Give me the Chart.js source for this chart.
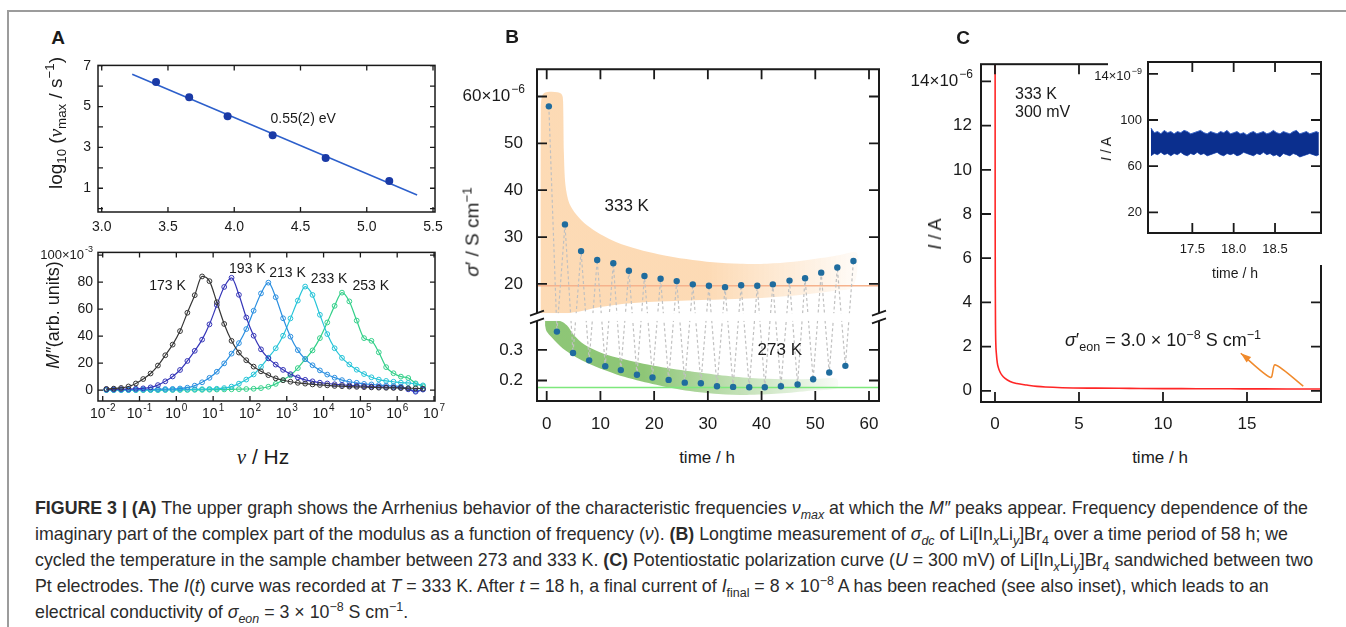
<!DOCTYPE html>
<html>
<head>
<meta charset="utf-8">
<title>Figure 3</title>
<script src="https://cdn.jsdelivr.net/npm/chart.js@4.4.1/dist/chart.umd.min.js"></script>
<style>
  html, body { margin: 0; padding: 0; }
  body { width: 1346px; height: 627px; position: relative; overflow: hidden; background: #fff;
         font-family: 'Liberation Sans', Arial, sans-serif; color: #1a1a1a; }
  canvas { position: absolute; }
  .box-top { position: absolute; left: 7px; top: 10px; width: 1339px; border-top: 2px solid #9c9c9c; }
  .box-left { position: absolute; left: 7px; top: 10px; height: 617px; border-left: 2px solid #9c9c9c; }
  .t { position: absolute; white-space: nowrap; transform: translate(-50%, -50%); line-height: 1; }
  .r { transform: translate(-50%, -50%) rotate(-90deg); }
  .letter { font-weight: bold; font-size: 19px; }
  sub, sup { font-size: 70%; line-height: 0; }
  .nu { font-family: 'Liberation Serif', 'DejaVu Serif', serif; font-style: italic; }
  .cap { position: absolute; left: 35px; font-size: 17.8px; line-height: 26px; white-space: nowrap; color: #2b2b2b; }
</style>
</head>
<body>
<div class="box-top"></div><div class="box-left"></div>
<canvas id="arr"></canvas>
<canvas id="mod"></canvas>
<canvas id="cond"></canvas>
<canvas id="pol"></canvas>
<canvas id="ins"></canvas>

<div class="t letter" style="left:58px;top:37px">A</div>
<div class="t letter" style="left:512px;top:36px">B</div>
<div class="t letter" style="left:963px;top:37px">C</div>

<div class="t r" style="left:55px;top:123px;font-size:19px">log<sub>10</sub> (<span class="nu">ν</span><sub>max</sub> / s<sup>−1</sup>)</div>
<div class="t r" style="left:53px;top:315px;font-size:18px"><i>M″</i>(arb. units)</div>
<div class="t" style="left:263px;top:457px;font-size:21px"><span class="nu">ν</span> / Hz</div>

<div class="t r" style="left:472px;top:232px;font-size:19px"><i>σ</i>′ / S cm<sup>−1</sup></div>
<div class="t" style="left:707px;top:457px;font-size:17px">time / h</div>

<div class="t r" style="left:935px;top:234px;font-size:18px"><i>I</i> / A</div>
<div class="t" style="left:1160px;top:457px;font-size:17px">time / h</div>
<div class="t r" style="left:1106px;top:149px;font-size:14px"><i>I</i> / A</div>
<div class="t" style="left:1235px;top:273px;font-size:14px">time / h</div>
<div class="t" style="left:1163px;top:340px;font-size:18px"><i>σ</i>′<sub>eon</sub> = 3.0 × 10<sup>−8</sup> S cm<sup>−1</sup></div>

<div class="cap" style="top:495px"><b>FIGURE 3 | (A)</b> The upper graph shows the Arrhenius behavior of the characteristic frequencies <i>ν<sub>max</sub></i> at which the <i>M″</i> peaks appear. Frequency dependence of the</div>
<div class="cap" style="top:521px">imaginary part of the complex part of the modulus as a function of frequency (<i>ν</i>). <b>(B)</b> Longtime measurement of <i>σ</i><sub><i>dc</i></sub> of Li[In<sub><i>x</i></sub>Li<sub><i>y</i></sub>]Br<sub>4</sub> over a time period of 58 h; we</div>
<div class="cap" style="top:547px">cycled the temperature in the sample chamber between 273 and 333 K. <b>(C)</b> Potentiostatic polarization curve (<i>U</i> = 300 mV) of Li[In<sub><i>x</i></sub>Li<sub><i>y</i></sub>]Br<sub>4</sub> sandwiched between two</div>
<div class="cap" style="top:573px">Pt electrodes. The <i>I</i>(<i>t</i>) curve was recorded at <i>T</i> = 333 K. After <i>t</i> = 18 h, a final current of <i>I</i><sub>final</sub> = 8 × 10<sup>−8</sup> A has been reached (see also inset), which leads to an</div>
<div class="cap" style="top:599px">electrical conductivity of <i>σ<sub>eon</sub></i> = 3 × 10<sup>−8</sup> S cm<sup>−1</sup>.</div>

<script>
// ---- panel A (top): Arrhenius plot
const arrInvT = [3.41, 3.66, 3.95, 4.29, 4.69, 5.17];
const arrLogNu = [6.20, 5.46, 4.53, 3.60, 2.48, 1.36];
const arrFitX = [3.23, 5.38];
const arrFitY = [6.58, 0.67];

// ---- panel A (bottom): modulus spectra, log10(frequency / Hz)
const modExp = [-1.9, -1.7, -1.5, -1.3, -1.1, -0.9, -0.7, -0.5, -0.3, -0.1,
  0.1, 0.3, 0.5, 0.7, 0.9, 1.1, 1.3, 1.5, 1.7, 1.9,
  2.1, 2.3, 2.5, 2.7, 2.9, 3.1, 3.3, 3.5, 3.7, 3.9,
  4.1, 4.3, 4.5, 4.7, 4.9, 5.1, 5.3, 5.5, 5.7, 5.9,
  6.1, 6.3, 6.5, 6.7];
const m173 = [0.9, 1.1, 1.6, 2.7, 4.9, 8.2, 12.3, 18.2, 25.8, 33.7,
  43.7, 57.3, 70.3, 84.2, 80.7, 65.1, 49.0, 36.5, 27.8, 22.1,
  17.4, 13.9, 11.1, 8.7, 7.3, 6.2, 5.4, 4.8, 4.2, 3.8,
  3.5, 3.1, 2.9, 2.6, 2.4, 2.2, 2.0, 1.8, 1.7, 1.6,
  1.5, 1.4, 1.3, 1.1];
const m193 = [0.5, 0.6, 0.7, 0.8, 1.0, 1.3, 2.0, 3.7, 6.5, 10.1,
  14.9, 21.6, 29.1, 37.4, 48.7, 63.0, 76.4, 83.2, 70.6, 53.8,
  40.3, 30.2, 23.5, 18.9, 15.0, 11.8, 9.4, 7.6, 6.5, 5.5,
  4.9, 4.3, 3.9, 3.5, 3.2, 2.9, 2.6, 2.4, 2.2, 2.0,
  1.9, 0.6, -1.2, 0.4];
const m213 = [0.2, 0.2, 0.3, 0.3, 0.4, 0.5, 0.6, 0.7, 0.8, 0.9,
  1.2, 1.8, 3.3, 5.8, 9.1, 13.6, 19.8, 27.0, 34.8, 45.2,
  58.8, 71.6, 79.6, 68.8, 53.2, 39.6, 29.6, 23.0, 18.4, 14.6,
  11.5, 9.2, 7.4, 6.2, 5.4, 4.6, 4.2, 3.7, 3.4, 3.0,
  2.6, 1.0, -0.6, 0.6];
const m233 = [0.1, 0.1, 0.1, 0.1, 0.1, 0.2, 0.2, 0.2, 0.2, 0.3,
  0.4, 0.5, 0.6, 0.7, 0.85, 1.0, 1.5, 2.6, 4.8, 7.8,
  11.6, 17.2, 24.0, 31.0, 40.3, 53.1, 66.3, 76.7, 70.5, 55.8,
  41.5, 31.0, 23.9, 19.0, 15.1, 11.9, 9.5, 7.8, 6.8, 6.2,
  5.5, 5.3, 4.5, 3.5];
const m253 = [0, 0, 0, 0, 0, 0, 0, 0, 0.1, 0.1,
  0.1, 0.1, 0.2, 0.2, 0.3, 0.4, 0.5, 0.6, 0.7, 0.8,
  1.0, 1.5, 2.5, 4.6, 7.5, 11.0, 16.3, 22.9, 29.4, 38.5,
  50.1, 62.4, 72.2, 65.7, 51.5, 38.5, 36.5, 28.0, 17.0, 12.5,
  10.0, 9.0, 5.0, 2.8];
const modTemps = ['173 K', '193 K', '213 K', '233 K', '253 K'];
const modColors = ['#363636', '#3636b8', '#2b8fe0', '#26c4d8', '#34d08a'];
const modDecades = [-2, -1, 0, 1, 2, 3, 4, 5, 6, 7];

// ---- panel B: conductivity while cycling 333 K / 273 K (units 1e-6 S/cm)
const hotT = [0.4, 3.4, 6.4, 9.4, 12.4, 15.3, 18.2, 21.2, 24.2, 27.2, 30.2, 33.2, 36.2, 39.2, 42.1, 45.2, 48.1, 51.1, 54.1, 57.1];
const hotS = [57.9, 32.7, 27.0, 25.1, 24.4, 22.8, 21.7, 21.1, 20.6, 19.9, 19.6, 19.3, 19.7, 19.6, 19.9, 20.7, 21.2, 22.4, 23.5, 24.9];
const coldT = [1.9, 4.9, 7.9, 10.9, 13.8, 16.8, 19.7, 22.7, 25.7, 28.7, 31.7, 34.7, 37.7, 40.6, 43.6, 46.7, 49.6, 52.6, 55.6];
const coldS = [0.36, 0.29, 0.266, 0.247, 0.234, 0.219, 0.21, 0.202, 0.193, 0.191, 0.181, 0.179, 0.178, 0.178, 0.181, 0.187, 0.204, 0.226, 0.248];
const HOT_LEVEL = 19.6;
const COLD_LEVEL = 0.177;
// guide bands
const bandHotT = [-1.1, -1.1, -0.9, -0.4, 0.8, 2.0, 2.7, 3.0, 3.1, 3.2, 3.5, 4.2, 5.5, 7.5, 10, 13, 17, 21, 26, 31, 36, 41, 46, 51, 55, 57.5,
  58, 57, 54, 50, 45, 40, 35, 30, 25, 20, 15, 11, 8, 5.5, 4];
const bandHotS = [13.75, 57.5, 60.0, 60.8, 61.0, 60.9, 60.6, 59.8, 56, 48, 41, 37.2, 34.8, 32.5, 30.6, 28.9, 27.4, 26.3, 25.3, 24.6, 24.3, 24.3, 24.7, 25.5, 26.3, 26.8,
  25.5, 19.3, 18.6, 18.0, 17.4, 17.0, 16.8, 16.6, 16.4, 16.2, 15.8, 15.2, 14.6, 14.0, 13.75];
const bandColdT = [-0.3, 0.5, 2.5, 3.8, 5, 7, 10, 13, 18, 25, 32, 38, 44, 50, 54,
  54, 50, 44, 38, 32, 25, 19, 13, 7, 3, 1, 0, -0.3];
const bandColdS = [0.395, 0.395, 0.395, 0.38, 0.35, 0.318, 0.292, 0.275, 0.255, 0.234, 0.218, 0.208, 0.204, 0.205, 0.205,
  0.175, 0.168, 0.158, 0.153, 0.156, 0.17, 0.192, 0.22, 0.262, 0.305, 0.34, 0.36, 0.38];
const timeTicks = [0, 10, 20, 30, 40, 50, 60];
const hotTicks = [20, 30, 40, 50, 60];
const coldTicks = [0.2, 0.3];
const BREAK_HOT = 13.75;   // lowest value shown in the upper part
const BREAK_COLD = 0.395;  // highest value shown in the lower part

// ---- panel C: polarisation current (units 1e-6 A)
const polT = [0, 0.01, 0.02, 0.03, 0.05, 0.08, 0.14, 0.2, 0.3, 0.4, 0.6, 0.9, 1.3, 1.9, 2.5, 3, 4, 6, 8, 10, 12, 14, 16, 18, 19.4];
const polI = [40, 8, 4.5, 3, 2.1, 1.7, 1.25, 1.05, 0.85, 0.72, 0.56, 0.42, 0.33, 0.26, 0.2, 0.17, 0.14, 0.12, 0.11, 0.1, 0.095, 0.09, 0.087, 0.083, 0.08];
const arrowT = [18.35, 16.67, 16.41, 14.63];
const arrowI = [0.21, 1.18, 0.6, 1.7];

// ---- inset: final current (units 1e-9 A), envelope of the noise
const insT = [17.00, 17.04, 17.08, 17.12, 17.16, 17.20, 17.24, 17.28, 17.32, 17.36,
  17.40, 17.44, 17.48, 17.52, 17.56, 17.60, 17.64, 17.68, 17.72, 17.76,
  17.80, 17.84, 17.88, 17.92, 17.96, 18.00, 18.04, 18.08, 18.12, 18.16,
  18.20, 18.24, 18.28, 18.32, 18.36, 18.40, 18.44, 18.48, 18.52, 18.56,
  18.60, 18.64, 18.68, 18.72, 18.76, 18.80, 18.84, 18.88, 18.92, 18.96,
  19.00, 19.03];
const insHi = [93, 89, 90, 88, 91, 89, 90, 88, 90, 89, 91, 90, 88, 89, 90, 91, 89, 88, 90, 89,
  88, 90, 89, 91, 88, 89, 90, 88, 89, 87, 89, 90, 88, 89, 90, 88, 89, 91, 89, 88,
  90, 89, 88, 90, 91, 88, 89, 90, 88, 89, 90, 89];
const insLo = [69, 71, 70, 72, 70, 71, 69, 71, 70, 72, 70, 69, 71, 70, 72, 70, 71, 69, 70, 71,
  72, 70, 69, 71, 70, 71, 69, 70, 72, 71, 70, 69, 71, 70, 72, 70, 71, 69, 70, 68,
  71, 70, 69, 71, 70, 68, 69, 70, 71, 70, 69, 70];

const FONT = "'Liberation Sans', Arial, sans-serif";
const INK = '#1a1a1a';
Chart.defaults.font.family = FONT;
Chart.defaults.color = INK;
Chart.defaults.animation = false;
Chart.defaults.plugins.legend.display = false;
Chart.defaults.plugins.tooltip.enabled = false;

const xy = (xs, ys) => xs.map((x, i) => ({ x, y: ys[i] }));

// canvas placed so that the plot area lands on rect; pad = room for the axes
function place(id, rect, pad) {
  const c = document.getElementById(id);
  const w = rect.r - rect.l + pad.l + pad.r, h = rect.b - rect.t + pad.t + pad.b;
  c.style.left = (rect.l - pad.l) + 'px';
  c.style.top = (rect.t - pad.t) + 'px';
  c.width = w; c.height = h;
  c.style.width = w + 'px'; c.style.height = h + 'px';
  return c;
}

// axis whose box is exactly `thick` px wide/high, so the plot area is fixed
function axis(type, min, max, ticks, size, pad, thick, fmt, extra) {
  const tickOpts = { font: { size }, padding: pad, autoSkip: false, maxRotation: 0, minRotation: 0, color: INK,
                     callback: fmt || (v => String(v)) };
  const a = Object.assign({
    type, min, max,
    grid: { display: false, drawTicks: false }, border: { display: false },
    afterBuildTicks: s => { s.ticks = ticks.map(v => ({ value: v })); },
    afterFit: s => { if (s.isHorizontal()) s.height = thick; else s.width = thick; }
  }, extra || {});
  a.ticks = Object.assign(tickOpts, (extra && extra.ticks) || {});
  return a;
}

function baseOptions(pad, scales) {
  return {
    responsive: false, maintainAspectRatio: false, devicePixelRatio: 1,
    layout: { padding: { left: 0, top: pad.t, right: pad.r, bottom: 0 } },
    elements: { point: { hitRadius: 0 } },
    scales
  };
}

function drawPow(ctx, base, exp, x, y, size, align) {
  const es = Math.round(size * 0.7);
  ctx.font = `${size}px ${FONT}`;
  const bw = ctx.measureText(base).width;
  ctx.font = `${es}px ${FONT}`;
  const ew = exp ? ctx.measureText(exp).width + 1 : 0;
  const w = bw + ew;
  const x0 = align === 'right' ? x - w : align === 'center' ? x - w / 2 : x;
  ctx.fillStyle = INK; ctx.textAlign = 'left'; ctx.textBaseline = 'middle';
  ctx.font = `${size}px ${FONT}`;
  ctx.fillText(base, x0, y);
  if (exp) {
    ctx.font = `${es}px ${FONT}`;
    ctx.fillText(exp, x0 + bw + 1, y - size * 0.42);
  }
}

// box + inward ticks on all four sides
function frame(cfg) {
  return {
    id: 'frame',
    afterDraw(chart) {
      const { ctx, chartArea: a } = chart;
      const xs = chart.scales.x, ys = chart.scales.y;
      ctx.save();
      ctx.strokeStyle = INK;
      ctx.lineWidth = cfg.lw;
      ctx.strokeRect(a.left, a.top, a.right - a.left, a.bottom - a.top);
      ctx.lineWidth = cfg.tw;
      ctx.beginPath();
      cfg.xt.forEach(v => {
        const p = xs.getPixelForValue(v);
        ctx.moveTo(p, a.bottom); ctx.lineTo(p, a.bottom - cfg.len);
        ctx.moveTo(p, a.top); ctx.lineTo(p, a.top + cfg.len);
      });
      cfg.yt.forEach(v => {
        const p = ys.getPixelForValue(v);
        ctx.moveTo(a.left, p); ctx.lineTo(a.left + cfg.len, p);
        ctx.moveTo(a.right, p); ctx.lineTo(a.right - cfg.len, p);
      });
      ctx.stroke();
      ctx.restore();
    }
  };
}

// text placed in data coordinates
function notes(items) {
  return {
    id: 'notes',
    afterDatasetsDraw(chart) {
      const { ctx } = chart;
      ctx.save();
      ctx.fillStyle = INK; ctx.textBaseline = 'middle';
      items.forEach(n => {
        ctx.font = `${n.size}px ${FONT}`;
        ctx.textAlign = n.align || 'center';
        ctx.fillText(n.text, chart.scales.x.getPixelForValue(n.x), chart.scales[n.axis || 'y'].getPixelForValue(n.y));
      });
      ctx.restore();
    }
  };
}

// tick labels drawn by hand (raised exponents, second y axis)
function powLabels(items) {
  return {
    id: 'pow',
    afterDraw(chart) {
      const { ctx, chartArea: a } = chart;
      ctx.save();
      items.forEach(n => {
        if (n.axis === 'x') {
          drawPow(ctx, n.base, n.exp, chart.scales.x.getPixelForValue(n.value), a.bottom + n.pad, n.size, 'center');
        } else {
          const s = chart.scales[n.axis];
          drawPow(ctx, n.base, n.exp, a.left - n.pad, s.getPixelForValue(n.value) + (n.dy || 0), n.size, 'right');
        }
      });
      ctx.restore();
    }
  };
}

// ===== Panel A, top
{
  const rect = { l: 98, t: 62, r: 435, b: 212 }, pad = { l: 40, t: 12, r: 15, b: 28 };
  new Chart(place('arr', rect, pad), {
    type: 'line',
    data: { datasets: [
      { data: xy(arrInvT, arrLogNu), showLine: false, pointRadius: 4, pointBackgroundColor: '#1a3aa6', pointBorderWidth: 0 },
      { data: xy(arrFitX, arrFitY), borderColor: '#2c5fcb', borderWidth: 1.5, pointRadius: 0 }
    ] },
    options: baseOptions(pad, {
      x: axis('linear', 2.972, 5.515, [3, 3.5, 4, 4.5, 5, 5.5], 14, 7, pad.b, v => v.toFixed(1)),
      y: axis('linear', -0.163, 7.014, [1, 3, 5, 7], 14, 7, pad.l)
    }),
    plugins: [
      frame({ xt: [3, 3.5, 4, 4.5, 5, 5.5], yt: [0, 1, 2, 3, 4, 5, 6, 7], len: 5, lw: 1.5, tw: 1.3 }),
      notes([{ x: 4.52, y: 4.38, text: '0.55(2) eV', size: 14 }])
    ]
  });
}

// ===== Panel A, bottom
{
  const rect = { l: 98, t: 251, r: 435, b: 401 }, pad = { l: 80, t: 12, r: 15, b: 29 };
  const series = [m173, m193, m213, m233, m253];
  const datasets = series.map((vals, k) => ({
    data: xy(modExp.map(e => Math.pow(10, e)), vals),
    borderColor: modColors[k], borderWidth: 1.2,
    pointRadius: 2.4, pointBorderWidth: 1, pointBorderColor: modColors[k], pointBackgroundColor: 'rgba(255,255,255,0)',
    cubicInterpolationMode: 'monotone'
  }));
  const decadeVals = modDecades.map(e => Math.pow(10, e));
  new Chart(place('mod', rect, pad), {
    type: 'line',
    data: { datasets },
    options: baseOptions(pad, {
      x: axis('logarithmic', Math.pow(10, -2.128), Math.pow(10, 7.027), decadeVals, 14, 6, pad.b, null, { ticks: { display: false } }),
      y: axis('linear', -8.07, 102.0, [0, 20, 40, 60, 80], 14, 5, pad.l)
    }),
    plugins: [
      frame({ xt: decadeVals, yt: [0, 20, 40, 60, 80, 100], len: 5, lw: 1.5, tw: 1.3 }),
      notes([
        { x: Math.pow(10, -0.24), y: 77, text: modTemps[0], size: 14 },
        { x: Math.pow(10, 1.93), y: 89.3, text: modTemps[1], size: 14 },
        { x: Math.pow(10, 3.02), y: 86.4, text: modTemps[2], size: 14 },
        { x: Math.pow(10, 4.15), y: 82, text: modTemps[3], size: 14 },
        { x: Math.pow(10, 5.28), y: 77, text: modTemps[4], size: 14 }
      ]),
      powLabels([{ axis: 'y', value: 100, base: '100×10', exp: '-3', size: 13, pad: 5 }]
        .concat(modDecades.map(e => ({ axis: 'x', value: Math.pow(10, e), base: '10', exp: String(e), size: 14, pad: 13 }))))
    ]
  });
}

// ===== Panel B, broken axis
{
  const rect = { l: 537, t: 61, r: 879, b: 401 }, pad = { l: 87, t: 16, r: 21, b: 39 };
  const TMIN = -1.806, TMAX = 61.86;
  const cycle = [];
  hotT.forEach((t, i) => {
    cycle.push({ t, s: hotS[i], hot: true });
    if (i < coldT.length) cycle.push({ t: coldT[i], s: coldS[i], hot: false });
  });
  const fade = (chart, rgb, a0, t0, t1) => {
    const x = chart.scales.x;
    const p0 = x ? x.getPixelForValue(t0) : NaN, p1 = x ? x.getPixelForValue(t1) : NaN;
    if (!chart.chartArea || !isFinite(p0) || !isFinite(p1)) return `rgba(${rgb},${a0})`;
    const g = chart.ctx.createLinearGradient(p0, 0, p1, 0);
    g.addColorStop(0, `rgba(${rgb},${a0})`);
    g.addColorStop(1, `rgba(${rgb},0.05)`);
    return g;
  };
  const broken = {
    id: 'broken',
    beforeDatasetDraw(chart, args) {
      if (args.index !== 1) return;
      const { ctx, chartArea: a, scales: { x, yU, yL } } = chart;
      ctx.save();
      ctx.beginPath(); ctx.rect(a.left, a.top, a.right - a.left, a.bottom - a.top); ctx.clip();
      ctx.setLineDash([3, 2.5]); ctx.strokeStyle = '#c0c0c0'; ctx.lineWidth = 1.2;
      ctx.beginPath();
      cycle.forEach((p, i) => {
        const px = x.getPixelForValue(p.t), py = (p.hot ? yU : yL).getPixelForValue(p.s);
        if (i) ctx.lineTo(px, py); else ctx.moveTo(px, py);
      });
      ctx.stroke();
      ctx.restore();
    },
    afterDraw(chart) {
      const { ctx, chartArea: a, scales: { x, yU, yL } } = chart;
      const gTop = yU.getPixelForValue(BREAK_HOT), gBot = yL.getPixelForValue(BREAK_COLD);
      const L = 10;
      ctx.save();
      ctx.fillStyle = '#fff';
      ctx.fillRect(a.left - 3, gTop, a.right - a.left + 6, gBot - gTop);
      ctx.strokeStyle = INK; ctx.lineWidth = 2;
      ctx.beginPath();
      ctx.moveTo(a.left, gTop); ctx.lineTo(a.left, a.top); ctx.lineTo(a.right, a.top); ctx.lineTo(a.right, gTop);
      ctx.moveTo(a.left, gBot); ctx.lineTo(a.left, a.bottom); ctx.lineTo(a.right, a.bottom); ctx.lineTo(a.right, gBot);
      ctx.stroke();
      ctx.lineWidth = 1.8;
      ctx.beginPath();
      timeTicks.forEach(v => {
        const p = x.getPixelForValue(v);
        ctx.moveTo(p, a.top); ctx.lineTo(p, a.top + L);
        ctx.moveTo(p, a.bottom); ctx.lineTo(p, a.bottom - L);
      });
      [[yU, hotTicks], [yL, coldTicks]].forEach(([s, ticks]) => ticks.forEach(v => {
        const p = s.getPixelForValue(v);
        ctx.moveTo(a.left, p); ctx.lineTo(a.left + L, p);
        ctx.moveTo(a.right, p); ctx.lineTo(a.right - L, p);
      }));
      [a.left, a.right].forEach(bx => [gTop, gBot].forEach(by => {
        ctx.moveTo(bx - 7, by + 2.5); ctx.lineTo(bx + 7, by - 2.5);
      }));
      ctx.stroke();
      ctx.restore();
    }
  };
  new Chart(place('cond', rect, pad), {
    type: 'line',
    data: { datasets: [
      { data: xy(hotT, hotS), yAxisID: 'yU', showLine: false, pointRadius: 3.2, pointBackgroundColor: '#1f6c9e', pointBorderWidth: 0 },
      { data: xy(coldT, coldS), yAxisID: 'yL', showLine: false, pointRadius: 3.2, pointBackgroundColor: '#1f6c9e', pointBorderWidth: 0 },
      { data: xy([TMIN, TMAX], [HOT_LEVEL, HOT_LEVEL]), yAxisID: 'yU', borderColor: '#f6b28c', borderWidth: 1.6, pointRadius: 0 },
      { data: xy([TMIN, TMAX], [COLD_LEVEL, COLD_LEVEL]), yAxisID: 'yL', borderColor: '#7ee87c', borderWidth: 1.4, pointRadius: 0 },
      { data: xy(bandHotT, bandHotS), yAxisID: 'yU', fill: 'shape', borderWidth: 0, pointRadius: 0, tension: 0.3,
        backgroundColor: c => fade(c.chart, '252,208,160', 0.78, 30, 59) },
      { data: xy(bandColdT, bandColdS), yAxisID: 'yL', fill: 'shape', borderWidth: 0, pointRadius: 0, tension: 0.3,
        backgroundColor: c => fade(c.chart, '110,182,80', 0.78, 18, 54) }
    ] },
    options: baseOptions(pad, {
      x: axis('linear', TMIN, TMAX, timeTicks, 17, 13, pad.b),
      yU: axis('linear', -5.0, 65.83, [20, 30, 40, 50], 17, 14, pad.l, null, { position: 'left' }),
      yL: axis('linear', 0.1329, 1.219, coldTicks, 17, 14, 0, null, { position: 'left', ticks: { display: false } })
    }),
    plugins: [
      broken,
      notes([
        { x: 14.9, y: 36.5, text: '333 K', size: 17, axis: 'yU' },
        { x: 43.4, y: 0.3, text: '273 K', size: 17, axis: 'yL' }
      ]),
      powLabels([{ axis: 'yU', value: 60, base: '60×10', exp: '−6', size: 17, pad: 12 }]
        .concat(coldTicks.map(v => ({ axis: 'yL', value: v, base: v.toFixed(1), exp: '', size: 17, pad: 14 }))))
    ]
  });
}

// ===== Panel C, main curve
{
  const rect = { l: 981, t: 61, r: 1321, b: 402 }, pad = { l: 78, t: 16, r: 19, b: 38 };
  const ORANGE = '#f08a2c';
  const arrowHead = {
    id: 'arrowHead',
    afterDatasetsDraw(chart) {
      const { ctx, scales: { x, y } } = chart;
      const n = arrowT.length;
      const x1 = x.getPixelForValue(arrowT[n - 2]), y1 = y.getPixelForValue(arrowI[n - 2]);
      const x2 = x.getPixelForValue(arrowT[n - 1]), y2 = y.getPixelForValue(arrowI[n - 1]);
      const ang = Math.atan2(y2 - y1, x2 - x1);
      ctx.save();
      ctx.fillStyle = ORANGE;
      ctx.beginPath();
      ctx.moveTo(x2, y2);
      ctx.lineTo(x2 - 11 * Math.cos(ang - 0.33), y2 - 11 * Math.sin(ang - 0.33));
      ctx.lineTo(x2 - 11 * Math.cos(ang + 0.33), y2 - 11 * Math.sin(ang + 0.33));
      ctx.closePath();
      ctx.fill();
      ctx.restore();
    }
  };
  new Chart(place('pol', rect, pad), {
    type: 'line',
    data: { datasets: [
      { data: xy(polT, polI), borderColor: '#ff2626', borderWidth: 1.6, pointRadius: 0, cubicInterpolationMode: 'monotone' },
      { data: xy(arrowT, arrowI), borderColor: ORANGE, borderWidth: 1.5, pointRadius: 0, tension: 0.25 }
    ] },
    options: baseOptions(pad, {
      x: axis('linear', -0.833, 19.405, [0, 5, 10, 15], 17, 12, pad.b),
      y: axis('linear', -0.507, 14.78, [0, 2, 4, 6, 8, 10, 12], 17, 9, pad.l)
    }),
    plugins: [
      frame({ xt: [0, 5, 10, 15], yt: [0, 2, 4, 6, 8, 10, 12, 14], len: 10, lw: 2, tw: 1.8 }),
      arrowHead,
      notes([
        { x: 1.19, y: 13.4, text: '333 K', size: 16, align: 'left' },
        { x: 1.19, y: 12.6, text: '300 mV', size: 16, align: 'left' }
      ]),
      powLabels([{ axis: 'y', value: 14, base: '14×10', exp: '−6', size: 17, pad: 8 }])
    ]
  });
}

// ===== Panel C, inset
{
  const rect = { l: 1148, t: 62, r: 1321, b: 233 }, pad = { l: 60, t: 22, r: 25, b: 52 };
  const insetBg = {
    id: 'insetBg',
    beforeDraw(chart) {
      const { ctx, chartArea: a, width } = chart;
      ctx.save();
      ctx.fillStyle = '#fff';
      ctx.fillRect(a.left - 40, 0, width - (a.left - 40), a.bottom + 32);
      ctx.restore();
    }
  };
  new Chart(place('ins', rect, pad), {
    type: 'line',
    data: { datasets: [
      { data: xy(insT, insHi), borderColor: '#3a64c6', borderWidth: 1, pointRadius: 0, fill: '+1', backgroundColor: '#0b2f8e' },
      { data: xy(insT, insLo), borderColor: '#3a64c6', borderWidth: 1, pointRadius: 0 }
    ] },
    options: baseOptions(pad, {
      x: axis('linear', 16.964, 19.056, [17.5, 18, 18.5], 13, 9, pad.b, v => v.toFixed(1)),
      y: axis('linear', 2.06, 150.3, [20, 60, 100], 13, 6, pad.l)
    }),
    plugins: [
      insetBg,
      frame({ xt: [17.5, 18, 18.5], yt: [20, 60, 100, 140], len: 10, lw: 2, tw: 1.8 }),
      powLabels([{ axis: 'y', value: 140, base: '14×10', exp: '−9', size: 13, pad: 6, dy: 3 }])
    ]
  });
}
</script>
</body>
</html>
